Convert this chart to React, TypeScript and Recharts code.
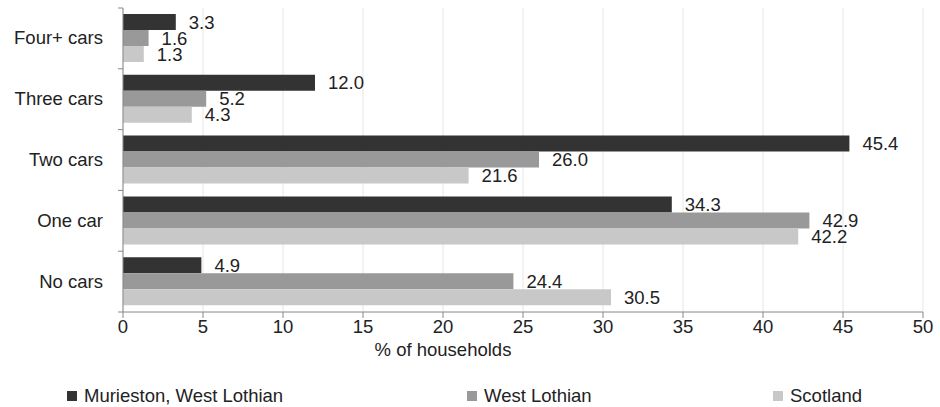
import React from "react";
import {
  BarChart,
  Bar,
  XAxis,
  YAxis,
  CartesianGrid,
  LabelList,
} from "recharts";

const categories = ["Four+ cars", "Three cars", "Two cars", "One car", "No cars"];
const murieston = [3.3, 12.0, 45.4, 34.3, 4.9];
const westLothian = [1.6, 5.2, 26.0, 42.9, 24.4];
const scotland = [1.3, 4.3, 21.6, 42.2, 30.5];
const xTicks = [0, 5, 10, 15, 20, 25, 30, 35, 40, 45, 50];

const seriesNames = ["Murieston, West Lothian", "West Lothian", "Scotland"];
const colors = ["#333333", "#999999", "#c8c8c8"];

const data = categories.map((name, i) => ({
  name,
  murieston: murieston[i],
  westLothian: westLothian[i],
  scotland: scotland[i],
}));

const FONT = "'Liberation Sans', Arial, sans-serif";
const FS = 18.5;
const BAND = 60.8;

const CategoryTick = (props: any) => {
  const { x, y, payload, index } = props;
  const half = BAND / 2;
  return (
    <g>
      <line x1={x + 1} x2={x + 6} y1={y - half} y2={y - half} stroke="#888" />
      {index === categories.length - 1 && (
        <line x1={x + 1} x2={x + 6} y1={y + half} y2={y + half} stroke="#888" />
      )}
      <text x={x - 14} y={y} dy={6} textAnchor="end" fontSize={FS} fill="#222" fontFamily={FONT}>
        {payload.value}
      </text>
    </g>
  );
};

const fmt = (v: any) => Number(v).toFixed(1);

export default function App() {
  return (
    <div style={{ position: "absolute", left: 0, top: 0, width: 940, height: 407, background: "#fff", fontFamily: FONT }}>
      <BarChart
        width={940}
        height={407}
        data={data}
        layout="vertical"
        margin={{ top: 8, right: 17, left: 0, bottom: 0 }}
        barSize={16}
        barGap={0}
      >
        <CartesianGrid horizontal={false} stroke="#e6e6e6" />
        <XAxis
          type="number"
          domain={[0, 50]}
          ticks={xTicks}
          interval={0}
          height={95}
          axisLine={{ stroke: "#888" }}
          tickLine={{ stroke: "#888" }}
          tickSize={6}
          tick={{ fill: "#222", fontSize: FS, fontFamily: FONT }}
          label={(p: any) => {
            const vb = p.viewBox;
            return (
              <text x={vb.x + vb.width * 0.4} y={vb.y + 44} textAnchor="middle" fontSize={FS} fill="#222" fontFamily={FONT}>
                % of households
              </text>
            );
          }}
        />
        <YAxis
          type="category"
          dataKey="name"
          width={123}
          axisLine={{ stroke: "#888" }}
          tickLine={false}
          tickMargin={0}
          tick={<CategoryTick />}
        />
        <Bar dataKey="murieston" fill={colors[0]} isAnimationActive={false}>
          <LabelList dataKey="murieston" position="right" offset={13} formatter={fmt} fontSize={FS} fill="#222" fontFamily={FONT} />
        </Bar>
        <Bar dataKey="westLothian" fill={colors[1]} isAnimationActive={false}>
          <LabelList dataKey="westLothian" position="right" offset={13} formatter={fmt} fontSize={FS} fill="#222" fontFamily={FONT} />
        </Bar>
        <Bar dataKey="scotland" fill={colors[2]} isAnimationActive={false}>
          <LabelList dataKey="scotland" position="right" offset={13} formatter={fmt} fontSize={FS} fill="#222" fontFamily={FONT} />
        </Bar>
      </BarChart>
      {/* legend */}
      {[67, 467, 773].map((left, i) => (
        <div
          key={seriesNames[i]}
          style={{ position: "absolute", left, top: 385, display: "flex", alignItems: "center", fontSize: FS, color: "#222" }}
        >
          <span style={{ display: "inline-block", width: 10, height: 10, background: colors[i], marginRight: 7 }} />
          <span>{seriesNames[i]}</span>
        </div>
      ))}
    </div>
  );
}
